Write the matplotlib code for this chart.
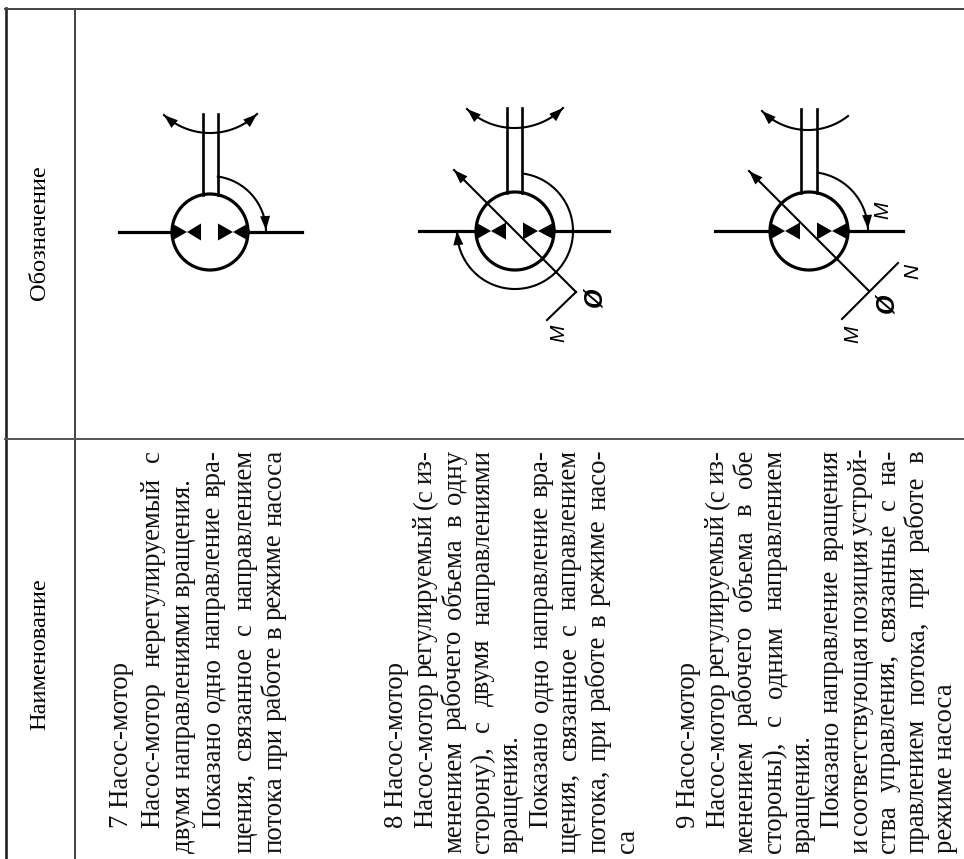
"""Rotated table scan: hydraulic pump-motor symbols 7-9 with their descriptions."""
import matplotlib
matplotlib.use("Agg")
import matplotlib.pyplot as plt
import numpy as np
from matplotlib.patches import Polygon

SERIF = "Liberation Serif"
BODY_SIZE = 19.3
HEAD_SIZE = 17.6

header_name = "Наименование"
header_symbol = "Обозначение"

# (text, justified, indent) per column, read bottom to top after rotating
col7 = [
    ("7 Насос-мотор", False, 1),
    ("Насос-мотор нерегулируемый с", True, 1),
    ("двумя направлениями вращения.", False, 0),
    ("Показано одно направление вра-", True, 1),
    ("щения, связанное с направлением", True, 0),
    ("потока при работе в режиме насоса", True, 0),
]
col8 = [
    ("8 Насос-мотор", False, 1),
    ("Насос-мотор регулируемый (с из-", True, 1),
    ("менением рабочего объема в одну", True, 0),
    ("сторону), с двумя направлениями", True, 0),
    ("вращения.", False, 0),
    ("Показано одно направление вра-", True, 1),
    ("щения, связанное с направлением", True, 0),
    ("потока, при работе в режиме насо-", True, 0),
    ("са", False, 0),
]
col9 = [
    ("9 Насос-мотор", False, 1),
    ("Насос-мотор регулируемый (с из-", True, 1),
    ("менением рабочего объема в обе", True, 0),
    ("стороны), с одним направлением", True, 0),
    ("вращения.", False, 0),
    ("Показано направление вращения", True, 1),
    ("и соответствующая позиция устрой-", True, 0),
    ("ства управления, связанные с на-", True, 0),
    ("правлением потока, при работе в", True, 0),
    ("режиме насоса", False, 0),
]
col_baselines = [
    [128, 159, 190, 220, 251, 281],
    [403, 432, 461, 489, 518, 547, 576, 605, 634],
    [695, 724, 752, 781, 809, 838, 867, 895, 924, 952],
]
LINE_BOTTOM = 853
LINE_TOP = 450
INDENT = 25
MIN_GAP = 3.5

# symbol geometry, px in the scan
centers = [(210, 232), (515, 231), (809, 231)]
radii = [38, 39, 39]
flow_lines = [(119, 302), (419, 609), (715, 903)]
shafts = [(203, 218, 114), (507, 522, 108), (801, 817, 109)]
# top arc: left end, low point, right end
shaft_arcs = [
    ((164, 115), (210, 133), (257, 114)),
    ((467, 109), (515, 128), (563, 108)),
    ((762, 111), (809, 130), (848, 116)),
]
# rotation arc: start/end angle in degrees measured on screen, radius
turn_arcs = [(-82, -2, 56), (-82, 180, 58), (-80, -2, 59)]
# diagonal variable-displacement arrows: tip, foot
diag_arrows = [None, ((454, 170), (576, 292)), ((749, 171), (869, 291))]
# control stubs: from, to
stubs = [None, ((576, 292), (547, 320)), ((842, 319), (898, 263))]
labels = [
    [],
    [("Ø", 595, 298, 18, "bold"), ("M", 559, 333, 15, "normal")],
    [("Ø", 887, 304, 18, "bold"), ("M", 853, 334, 15, "normal"),
     ("N", 913, 271, 15, "normal"), ("M", 883, 210, 15, "normal")],
]

fig = plt.figure(figsize=(9.64, 8.59), dpi=100)
ax = fig.add_axes([0, 0, 1, 1])
ax.set_xlim(0, 964)
ax.set_ylim(859, 0)
ax.axis("off")


def arrowhead(tip, angle, length=14, half=5):
    # angle is the travel direction at the tip
    d = np.array([np.cos(angle), np.sin(angle)])
    n = np.array([-d[1], d[0]])
    tip = np.array(tip, dtype=float)
    base = tip - d * length
    ax.add_patch(Polygon([tip, base + n * half, base - n * half], color="black", lw=0, zorder=4))


def three_point_arc(a, b, c):
    ax_, ay = a
    bx, by = b
    cx, cy = c
    d = 2 * (ax_ * (by - cy) + bx * (cy - ay) + cx * (ay - by))
    ux = ((ax_**2 + ay**2) * (by - cy) + (bx**2 + by**2) * (cy - ay) + (cx**2 + cy**2) * (ay - by)) / d
    uy = ((ax_**2 + ay**2) * (cx - bx) + (bx**2 + by**2) * (ax_ - cx) + (cx**2 + cy**2) * (bx - ax_)) / d
    r = np.hypot(ax_ - ux, ay - uy)
    t0 = np.arctan2(ay - uy, ax_ - ux)
    t1 = np.arctan2(cy - uy, cx - ux)
    t = np.linspace(t0, t1, 60)
    return ux + r * np.cos(t), uy + r * np.sin(t), t0, t1


def draw_symbol(i):
    cx, cy = centers[i]
    r = radii[i]
    t = np.linspace(0, 2 * np.pi, 200)
    ax.plot(cx + r * np.cos(t), cy + r * np.sin(t), color="black", lw=2.3, zorder=3)
    x0, x1 = flow_lines[i]
    ax.plot([x0, cx - r], [cy, cy], color="black", lw=2.3)
    ax.plot([cx + r, x1], [cy, cy], color="black", lw=2.3)

    # the two pairs of facing triangles
    for base, tip in [(-r, -r + 15), (-9, -r + 15), (8, 23), (r, 23)]:
        ax.add_patch(Polygon([(cx + base, cy - 8.5), (cx + base, cy + 8.5), (cx + tip, cy)],
                             color="black", lw=0, zorder=4))

    s0, s1, top = shafts[i]
    y_end = cy - np.sqrt(r**2 - 7.5**2)
    ax.plot([s0, s0], [top, y_end], color="black", lw=1.9)
    ax.plot([s1, s1], [top, y_end], color="black", lw=1.9)

    # shaft rotation arc
    a, b, c = shaft_arcs[i]
    xs, ys, t0, t1 = three_point_arc(a, b, c)
    ax.plot(xs, ys, color="black", lw=1.5, zorder=3)
    arrowhead(a, np.arctan2(ys[0] - ys[3], xs[0] - xs[3]))
    if i != 2:
        arrowhead(c, np.arctan2(ys[-1] - ys[-4], xs[-1] - xs[-4]))

    # rotation arc around the circle
    a0, a1, rr = turn_arcs[i]
    th = np.radians(np.linspace(a0, a1, 120))
    xs = cx + rr * np.cos(th)
    ys = cy + rr * np.sin(th)
    ax.plot(xs, ys, color="black", lw=1.5)
    arrowhead((xs[-1], ys[-1]), np.arctan2(ys[-1] - ys[-6], xs[-1] - xs[-6]))

    if diag_arrows[i]:
        tip, foot = diag_arrows[i]
        ax.plot([tip[0], foot[0]], [tip[1], foot[1]], color="black", lw=1.5, zorder=5)
        arrowhead(tip, np.arctan2(tip[1] - foot[1], tip[0] - foot[0]))
    if stubs[i]:
        p, q = stubs[i]
        ax.plot([p[0], q[0]], [p[1], q[1]], color="black", lw=1.5)
    for s, x, y, size, weight in labels[i]:
        ax.text(x, y, s, rotation=90, ha="center", va="center", fontsize=size,
                family="Liberation Sans", fontweight=weight, style="italic")


def body_line(x, line):
    text, justified, indent = line
    start = LINE_BOTTOM - INDENT * indent
    kw = dict(rotation=90, ha="left", va="baseline", rotation_mode="anchor",
              family=SERIF, fontsize=BODY_SIZE, color="#111111")
    if not justified:
        ax.text(x, start, text, **kw)
        return
    # spread the words over the measure, like the typeset original
    words = text.split()
    items = [ax.text(x, start, w, **kw) for w in words]
    rend = fig.canvas.get_renderer()
    sizes = [it.get_window_extent(rend).height for it in items]
    gap = (start - LINE_TOP - sum(sizes)) / max(len(words) - 1, 1)
    gap = max(gap, MIN_GAP)
    y = start
    for it, h in zip(items, sizes):
        it.set_y(y)
        y -= h + gap


# table rules
ax.plot([6, 6], [8, 859], color="#222222", lw=1.9)
ax.plot([75, 75], [9, 859], color="#222222", lw=1.2)
ax.plot([5, 964], [9, 9], color="#444444", lw=1.4)
ax.plot([5, 964], [439, 439], color="#555555", lw=1.4)

ax.text(45, 654, header_name, rotation=90, ha="center", va="baseline", rotation_mode="anchor",
        family=SERIF, fontsize=HEAD_SIZE)
ax.text(45, 233, header_symbol, rotation=90, ha="center", va="baseline", rotation_mode="anchor",
        family=SERIF, fontsize=HEAD_SIZE)

for i in range(3):
    draw_symbol(i)
for lines, xs in zip([col7, col8, col9], col_baselines):
    for line, x in zip(lines, xs):
        body_line(x, line)

fig.savefig("out.png", dpi=100)
